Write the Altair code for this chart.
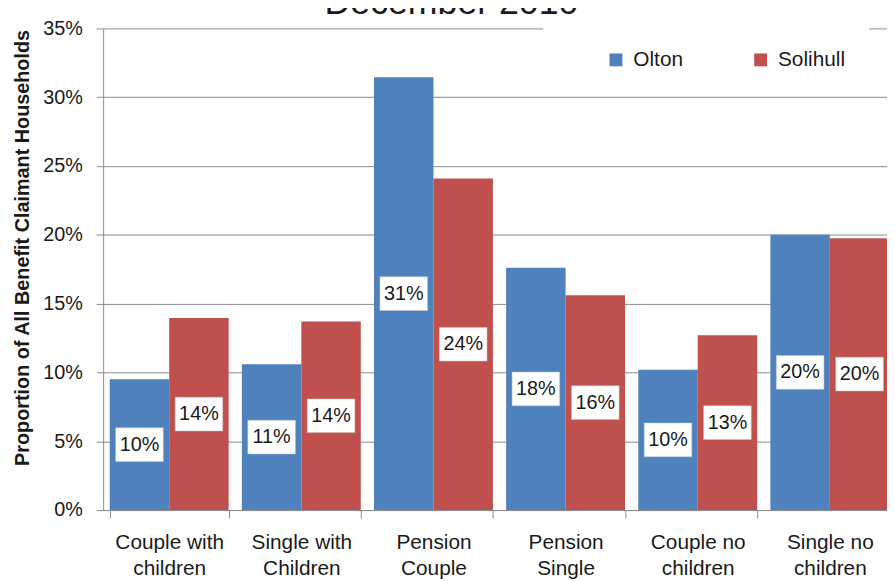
import altair as alt
import pandas as pd

categories = ["Couple with children", "Single with Children", "Pension Couple",
              "Pension Single", "Couple no children", "Single no children"]
series = ["Olton", "Solihull"]
olton = [0.095, 0.106, 0.3145, 0.176, 0.102, 0.200]
solihull = [0.1395, 0.137, 0.241, 0.156, 0.127, 0.1976]
colors = ["#4F81BD", "#C0504D"]
y_ticks = [0, 0.05, 0.10, 0.15, 0.20, 0.25, 0.30, 0.35]
chart_title = "December 2010"
y_title = "Proportion of All Benefit Claimant Households"

rows = []
for i, c in enumerate(categories):
    rows.append({"category": c, "area": "Olton", "value": olton[i]})
    rows.append({"category": c, "area": "Solihull", "value": solihull[i]})
df = pd.DataFrame(rows)

FONT = "Liberation Sans"
GRAY = "#8c8c8c"
INK = "#1a1a1a"

x_enc = alt.X(
    "category:N", sort=categories,
    scale=alt.Scale(range=[0, 800], paddingInner=0.1, paddingOuter=0.05),
    axis=alt.Axis(
        title=None, tickBand="extent", labelAngle=0,
        labelExpr="[slice(datum.label, 0, lastindexof(datum.label, ' ')), slice(datum.label, lastindexof(datum.label, ' ') + 1)]",
        labelFont=FONT, labelFontSize=21, labelLineHeight=26, labelPadding=14,
        labelColor=INK, tickSize=8, tickColor=GRAY, domainColor=GRAY, grid=False,
    ),
)
xo_enc = alt.XOffset("area:N", sort=series, scale=alt.Scale(paddingInner=0, paddingOuter=0))

y_axis = alt.Axis(
    values=y_ticks, format=".0%", title=y_title,
    titleFont=FONT, titleFontSize=20, titleFontWeight="bold", titleColor=INK,
    titleAngle=-90, titleX=-71, titleY=221, titleAlign="center", titleBaseline="bottom",
    labelFont=FONT, labelFontSize=20, labelPadding=14, labelColor=INK,
    tickSize=7, tickColor=GRAY, domainColor=GRAY, gridColor=GRAY, gridWidth=1,
)
y_scale = alt.Scale(domain=[0, 0.35], nice=False, zero=True)

base = alt.Chart(df).transform_calculate(mid="datum.value / 2")

bars = base.mark_bar().encode(
    x=x_enc, xOffset=xo_enc,
    y=alt.Y("value:Q", scale=y_scale, axis=y_axis),
    color=alt.Color(
        "area:N", scale=alt.Scale(domain=series, range=colors),
        legend=alt.Legend(
            title="\u00a0", titleOrient="left", titlePadding=39,
            orient="none", legendX=444, legendY=-3, direction="horizontal",
            symbolType="square", symbolSize=169, symbolStrokeWidth=0,
            labelFont=FONT, labelFontSize=21, labelColor=INK, labelOffset=7,
            columnPadding=67, fillColor="white", padding=24,
        ),
    ),
)

box_path = "M-1,-0.708L1,-0.708L1,0.708L-1,0.708Z"
boxes = base.mark_point(shape=box_path, filled=True, fill="white", size=2304, opacity=1,
                        stroke="#c8c8c8", strokeWidth=0.5).encode(
    x=x_enc, xOffset=xo_enc,
    y=alt.Y("mid:Q", scale=y_scale, axis=y_axis),
)

labels = base.mark_text(font=FONT, fontSize=20, color=INK, baseline="middle", align="center").encode(
    x=x_enc, xOffset=xo_enc,
    y=alt.Y("mid:Q", scale=y_scale, axis=y_axis),
    text=alt.Text("value:Q", format=".0%"),
)

chart = alt.layer(bars, boxes, labels).properties(
    width=791, height=486,
    autosize=alt.AutoSizeParams(type="none"),
    padding={"left": 96, "top": 18, "right": 0, "bottom": 69},
    background="white",
    title=alt.TitleParams(chart_title, font=FONT, fontSize=36, fontWeight="normal",
                          color=INK, anchor="middle", frame="group",
                          baseline="alphabetic", offset=-12, dy=19, dx=-44),
).configure_view(stroke=None)

chart.save("out.html", embed_options={"renderer": "svg", "actions": False})
